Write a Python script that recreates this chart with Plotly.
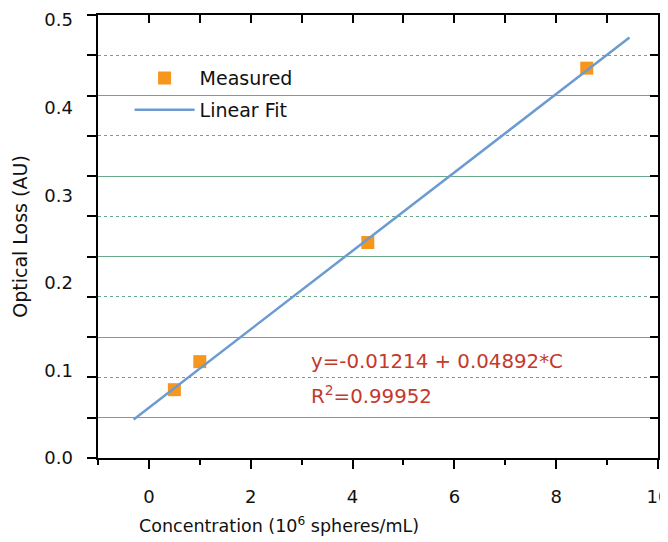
import plotly.graph_objects as go

# ---- data ----
conc = [0.5, 1.0, 4.3, 8.6]
loss = [0.078, 0.110, 0.246, 0.445]
fit_conc = [-0.3, 9.44]
fit_loss = [0.044, 0.480]

y_label_vals = [0.0, 0.1, 0.2, 0.3, 0.4, 0.5]
x_major = [0, 2, 4, 6, 8, 10]
x_minor = [-1, 1, 3, 5, 7, 9]
x_all = list(range(-1, 11))
grid_solid = [1, 3, 5, 7, 9]
grid_dot = [0, 2, 4, 6, 8, 10, 11]
y_ticks_all = list(range(0, 12))

x_title = "Concentration (10<sup>6</sup> spheres/mL)"
y_title = "Optical Loss (AU)"
eq_text = "y=-0.01214 + 0.04892*C"
r2_text = "R<sup>2</sup>=0.99952"

FONT = "DejaVu Sans"
GRID = "#6aa88c"

fig = go.Figure()
fig.add_trace(go.Scatter(x=conc, y=loss, mode="markers", name="Measured",
                         marker=dict(symbol="square", size=13, color="#f7961d"),
                         legendgroup="a"))
fig.add_trace(go.Scatter(x=fit_conc, y=fit_loss, mode="lines", name="Linear Fit",
                         line=dict(color="#6b9bd0", width=2.5), legendgroup="b"))
# helper traces to activate grid / frame axes
fig.add_trace(go.Scatter(x=[None], y=[None], xaxis="x2", yaxis="y2", showlegend=False, hoverinfo="skip"))
fig.add_trace(go.Scatter(x=[None], y=[None], xaxis="x", yaxis="y3", showlegend=False, hoverinfo="skip"))

# page body has an 8px margin, so margins are shifted to keep the plot area in place
fig.update_layout(
    width=668, height=534, autosize=False,
    margin=dict(l=90, r=18, t=7, b=84),
    paper_bgcolor="white", plot_bgcolor="white",
    font=dict(family=FONT, size=18, color="#111111"),
    showlegend=True,
    legend=dict(x=0.0564, y=0.9005, xanchor="left", yanchor="top", bgcolor="rgba(0,0,0,0)",
                font=dict(size=19, family=FONT), tracegroupgap=4, itemwidth=60),
    xaxis=dict(range=[-1, 10], tickvals=x_major, ticks="outside", ticklen=9, tickwidth=1.5,
               tickcolor="black", showline=True, linewidth=2, linecolor="black",
               showgrid=False, zeroline=False, tickfont=dict(size=18), automargin=False,
               ticklabelstandoff=12, ticklabeloverflow="allow",
               minor=dict(tickvals=x_minor, ticks="outside", ticklen=5, tickwidth=1.5, tickcolor="black", showgrid=False)),
    xaxis2=dict(range=[-1, 10], overlaying="x", side="top", anchor="y", tickvals=x_all, automargin=False,
                ticks="inside", ticklen=8, tickwidth=1.5, tickcolor="black", showline=True,
                linewidth=2, linecolor="black", showticklabels=False, showgrid=False, zeroline=False),
    yaxis=dict(range=[0, 0.5057], tickvals=y_label_vals, tickformat=".1f", ticks="",
               showline=False, showgrid=False, zeroline=False, tickfont=dict(size=18),
               ticklabelstandoff=24, automargin=False, ticklabeloverflow="allow",
               title=dict(text=y_title, font=dict(size=19), standoff=11)),
    yaxis2=dict(range=[0, 11], overlaying="y", side="left", anchor="x", tickvals=grid_solid, automargin=False,
                ticks="outside", ticklen=9, tickwidth=1.5, tickcolor="black", showline=True,
                linewidth=2, linecolor="black", showticklabels=False, showgrid=True,
                gridcolor=GRID, gridwidth=1, zeroline=False,
                minor=dict(tickvals=grid_dot, ticks="outside", ticklen=9, tickwidth=1.5, tickcolor="black",
                           showgrid=True, gridcolor=GRID, gridwidth=1, griddash="dot")),
    yaxis3=dict(range=[0, 11], overlaying="y", side="right", anchor="x", tickvals=y_ticks_all, automargin=False,
                ticks="inside", ticklen=8, tickwidth=1.5, tickcolor="black", showline=True,
                linewidth=2, linecolor="black", showticklabels=False, showgrid=False, zeroline=False),
    annotations=[
        dict(x=3.15, y=0.1096, xref="x", yref="y", text=eq_text, showarrow=False, xanchor="left",
             yanchor="middle", font=dict(size=19.8, color="#c4392c", family=FONT)),
        dict(x=3.15, y=0.072, xref="x", yref="y", text=r2_text, showarrow=False, xanchor="left",
             yanchor="middle", font=dict(size=19.8, color="#c4392c", family=FONT)),
        dict(x=0.323, y=-0.151, xref="paper", yref="paper", text=x_title, showarrow=False,
             xanchor="center", yanchor="middle", font=dict(size=17.5, color="#111111", family=FONT)),
    ],
)

fig.write_html("out.html", post_script="document.documentElement.style.overflow='hidden';")
